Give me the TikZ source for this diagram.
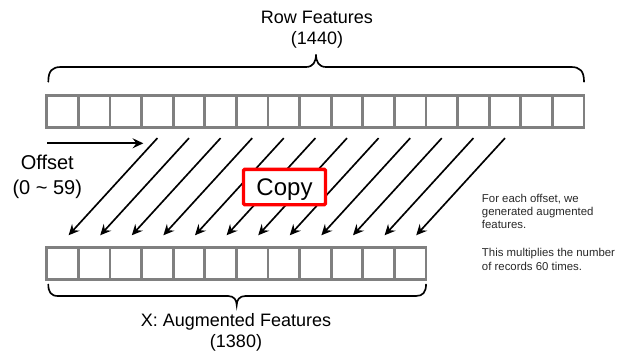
\documentclass[tikz,border=0pt]{standalone}
\usepackage{fontspec}
\setmainfont{Liberation Sans}
\usetikzlibrary{arrows.meta}
\definecolor{cellgray}{RGB}{128,128,128}
\definecolor{copyred}{RGB}{255,0,0}
\definecolor{notegray}{RGB}{40,40,40}
\begin{document}
\begin{tikzpicture}[x=0.75pt,y=-0.75pt,
  cell/.style={draw=cellgray,line width=2pt,minimum width=23.7pt,minimum height=23.7pt,inner sep=0pt,outer sep=0pt,fill=white},
  shiftarrow/.style={line width=1.25pt,-{Stealth[length=8pt,width=7.5pt,inset=2.8pt]}},
  bracepath/.style={line width=1.25pt,line cap=round},
  lbl/.style={font=\fontsize{13.5pt}{15.75pt}\selectfont,align=center,inner sep=0pt,anchor=base},
  copybox/.style={draw=copyred,line width=2.6pt,fill=white,rounded corners=1pt,minimum width=61.5pt,minimum height=26.6pt,inner sep=0pt,font=\fontsize{18pt}{20pt}\selectfont,text height=13.2pt,text depth=0pt},
  note/.style={font=\fontsize{8.55pt}{10pt}\selectfont,align=left,anchor=base west,inner sep=0pt,text=notegray}
]
\useasboundingbox (0,0) rectangle (630,356);
% rows of cells
\foreach \k in {1,...,17} \node[cell] (t\k) at ({31.0+31.6*\k},111.5) {};
\foreach \k in {1,...,12} \node[cell] (b\k) at ({31.0+31.6*\k},263.6) {};
% copy arrows
\foreach \k in {1,...,12} {
  \pgfmathtruncatemacro\s{\k+3}
  \draw[shiftarrow] ([yshift=-8.1pt]t\s.south) -- ([xshift=4.5pt,yshift=9.4pt]b\k.north);
}
\node[copybox] (copy) at (284.5,187) {Copy};
% offset arrow
\coordinate (offA) at (47.3,143.3);
\coordinate (offB) at (143.3,143.3);
\draw[shiftarrow] (offA) -- (offB);
\node[font=\fontsize{15pt}{18.75pt}\selectfont,align=center,anchor=base,inner sep=0pt] (offset) at (47.3,194.3) {Offset\\(0 \textasciitilde{} 59)};
% braces
\draw[bracepath] (48.3,81.7) .. controls (48.3,71) and (52,67) .. (61,67) -- (306,67)
  .. controls (313,67) and (316,62) .. (316,54.5)
  .. controls (316,62) and (319,67) .. (326,67) -- (571,67)
  .. controls (580,67) and (584,71) .. (584,81.7);
\draw[bracepath] (48.3,284.5) .. controls (48.3,292) and (51,296) .. (58,296) -- (228,296)
  .. controls (234,296) and (236.7,300) .. (236.7,305)
  .. controls (236.7,300) and (239.4,296) .. (245.4,296) -- (416,296)
  .. controls (423,296) and (426,292) .. (426,284.5);
% labels
\node[lbl] (rowlbl) at (317,45) {Row Features\\(1440)};
\node[lbl] (xlbl) at (236,347.7) {X: Augmented Features\\(1380)};
\node[note] (notetext) at (481.7,270) {For each offset, we\\generated augmented\\features.\\[10.8pt]This multiplies the number\\of records 60 times.};
\end{tikzpicture}
\end{document}
